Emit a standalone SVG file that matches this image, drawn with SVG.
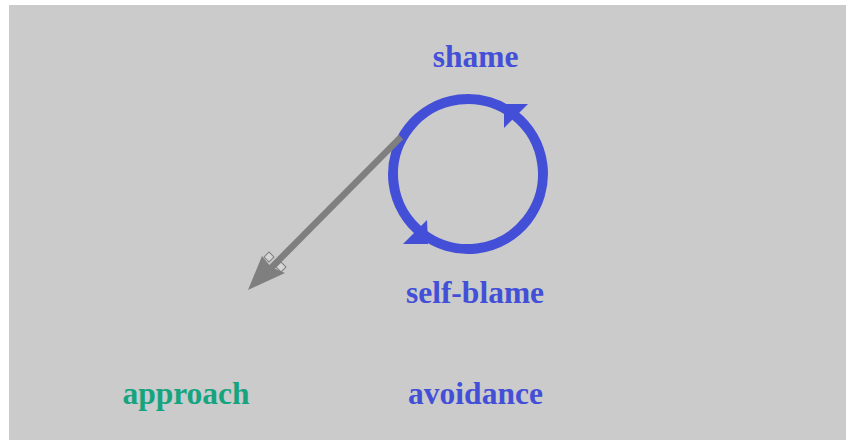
<svg xmlns="http://www.w3.org/2000/svg" width="846" height="440" viewBox="0 0 846 440">
  <style>
    .lbl { font-family: "Liberation Serif", "Times New Roman", serif; font-weight: bold; font-size: 31.5px; text-anchor: middle; }
    .blue { fill: #444fd8; }
    .green { fill: #16a47f; }
    .loop { fill: none; stroke: #444fd8; stroke-width: 10; }
    .head { fill: #444fd8; }
    .gline { stroke: #7f7f7f; stroke-width: 6.5; fill: none; }
    .ghead { fill: #7f7f7f; }
    .gsq { fill: #d6d6d6; stroke: #7f7f7f; stroke-width: 1; }
  </style>
  <rect x="9" y="5" width="837" height="435" fill="#cbcbcb"/>
  <g id="connectors">
    <g id="edge-shame-selfblame">
      <path class="loop" d="M 514.2,114.9 A 75 75 0 0 0 421.8,233.1"/>
      <polygon class="head" points="427,220 403,244 428,244"/>
    </g>
    <g id="edge-selfblame-shame">
      <path class="loop" d="M 421.8,233.1 A 75 75 0 0 0 514.2,114.9"/>
      <polygon class="head" points="504,104 528,104 504,128"/>
    </g>
    <g id="edge-to-approach">
      <line class="gline" x1="401" y1="137" x2="270" y2="269"/>
      <rect class="gsq" x="-3.5" y="-3.5" width="7" height="7" transform="translate(269,257) rotate(45)"/>
      <rect class="gsq" x="-3.5" y="-3.5" width="7" height="7" transform="translate(281,267) rotate(45)"/>
      <polygon class="ghead" points="248,290 262,256 271,267 285,273"/>
    </g>
  </g>
  <g id="node-shame">
    <text class="lbl blue" x="475.5" y="67">shame</text>
  </g>
  <g id="node-self-blame">
    <text class="lbl blue" x="475" y="303">self-blame</text>
  </g>
  <g id="node-approach">
    <text class="lbl green" x="186" y="404">approach</text>
  </g>
  <g id="node-avoidance">
    <text class="lbl blue" x="475.5" y="404">avoidance</text>
  </g>
</svg>
